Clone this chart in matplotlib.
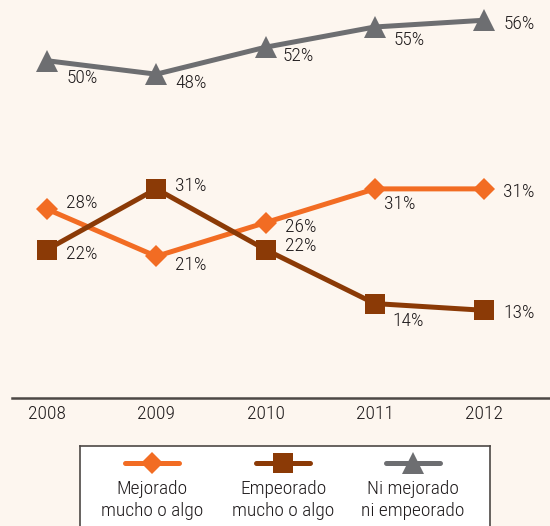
import matplotlib.pyplot as plt
from matplotlib.lines import Line2D

plt.rcParams['font.family'] = ['Liberation Sans Narrow', 'Roboto Condensed',
                               'Arial Narrow', 'Liberation Sans', 'DejaVu Sans']
plt.rcParams['font.weight'] = 'light'

years = ['2008', '2009', '2010', '2011', '2012']
mejorado = [28, 21, 26, 31, 31]
empeorado = [22, 31, 22, 14, 13]
ni_uno = [50, 48, 52, 55, 56]
legend_labels = ['Mejorado\nmucho o algo', 'Empeorado\nmucho o algo', 'Ni mejorado\nni empeorado']

bg = '#fdf6ef'
c_orange = '#f26c23'
c_brown = '#8b3a06'
c_gray = '#6d6e71'
txt = '#1e1a1b'
fs = 14

# label offsets in pixels (dx, dy down)
off_gray = [(35, 17), (35, 9), (33, 9), (34, 13), (35, 4)]
off_orange = [(35, -6), (35, 9), (35, 4), (25, 15), (35, 3)]
off_brown = [(35, 4), (35, -3), (35, -4), (33, 17), (35, 3)]

fig = plt.figure(figsize=(5.5, 5.26), dpi=100)
fig.patch.set_facecolor(bg)
ax = fig.add_axes([12 / 550, 1 - 398 / 526, 1 - 12 / 550, 398 / 526])
ax.set_facecolor(bg)

x = list(range(len(years)))
series = [
    (ni_uno, c_gray, '^', 16, off_gray),
    (mejorado, c_orange, 'D', 11, off_orange),
    (empeorado, c_brown, 's', 14.5, off_brown),
]
for vals, col, mk, ms, offs in series:
    ax.plot(x, vals, color=col, lw=3.6, marker=mk, markersize=ms,
            markeredgewidth=0, solid_capstyle='round', zorder=3)
    for xi, v, (dx, dy) in zip(x, vals, offs):
        ax.annotate('{}%'.format(v), (xi, v), xytext=(dx * 0.72, -dy * 0.72),
                    textcoords='offset points', ha='center', va='center',
                    fontsize=fs, color=txt)

ax.set_xlim((12 - 47) / 109.25, (550 - 47) / 109.25)
ax.set_ylim(0, 59)
for s in ['top', 'right', 'left']:
    ax.spines[s].set_visible(False)
ax.spines['bottom'].set_color('#4d4845')
ax.spines['bottom'].set_linewidth(1.8)
ax.set_yticks([])
ax.set_xticks(x)
ax.set_xticklabels(years, fontsize=fs, color=txt)
ax.tick_params(axis='x', length=0, pad=5)

# legend box
lax = fig.add_axes([80 / 550, -0.02, 410 / 550, 1 - 446 / 526 + 0.02])
lax.set_facecolor('white')
lax.set_xlim(80, 490)
lax.set_ylim(526 + 10.5, 446)
lax.set_xticks([])
lax.set_yticks([])
for s in lax.spines.values():
    s.set_color('#4d4845')
    s.set_linewidth(1.2)
lx = [152, 283, 413]
for cx, (vals, col, mk, ms, offs), lab in zip(lx, [series[1], series[2], series[0]], legend_labels):
    lax.add_line(Line2D([cx - 27, cx + 27], [463, 463], color=col, lw=3.6,
                        solid_capstyle='round'))
    lax.add_line(Line2D([cx], [463], color=col, marker=mk, markersize=ms,
                        markeredgewidth=0))
    lax.text(cx, 500, lab, ha='center', va='center', fontsize=fs, color=txt,
             linespacing=1.25)

fig.savefig('out.png', dpi=100, facecolor=bg)
